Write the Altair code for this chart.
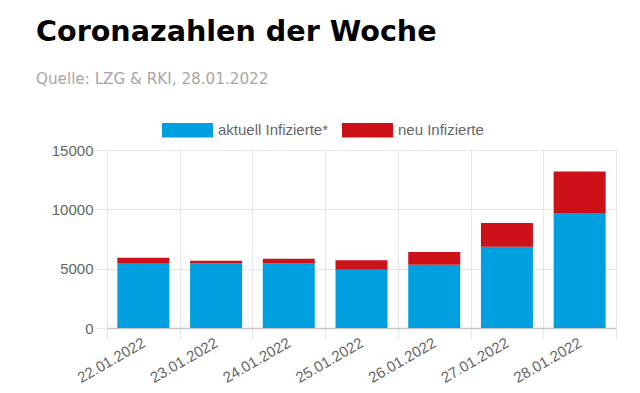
import altair as alt
import pandas as pd

dates = ["22.01.2022", "23.01.2022", "24.01.2022", "25.01.2022",
         "26.01.2022", "27.01.2022", "28.01.2022"]
aktuell = [5480, 5440, 5440, 4910, 5330, 6850, 9690]
neu = [440, 230, 400, 790, 1070, 2000, 3500]
series = ["aktuell Infizierte*", "neu Infizierte"]
colors = ["#009FE0", "#CC1118"]
y_ticks = [0, 5000, 10000, 15000]

rows = []
for d, a, n in zip(dates, aktuell, neu):
    rows.append({"Datum": d, "Serie": series[0], "Wert": a, "o": 0})
    rows.append({"Datum": d, "Serie": series[1], "Wert": n, "o": 1})
df = pd.DataFrame(rows)

grid_col = "#e6e6e6"
lab_font = "Liberation Sans"

chart = alt.Chart(df).mark_bar(width=alt.RelativeBandSize(0.715)).encode(
    x=alt.X("Datum:N", sort=dates, title=None,
            scale=alt.Scale(paddingInner=0, paddingOuter=0),
            axis=alt.Axis(tickBand="extent", labelAngle=330, labelAlign="right",
                          labelBaseline="middle", labelFont=lab_font, labelFontSize=15,
                          labelColor="#666666", labelPadding=2, tickSize=11,
                          tickColor=grid_col, grid=True, gridColor=grid_col,
                          domainColor="#c4c4c4", domainWidth=1.5)),
    y=alt.Y("Wert:Q", stack="zero", title=None,
            scale=alt.Scale(domain=[0, 15000], nice=False),
            axis=alt.Axis(values=y_ticks, format="d", domain=False, tickSize=12,
                          tickColor=grid_col, gridColor=grid_col, labelPadding=2,
                          labelFont=lab_font, labelFontSize=15, labelColor="#666666")),
    color=alt.Color("Serie:N", scale=alt.Scale(domain=series, range=colors),
                    legend=alt.Legend(title=None, orient="none", legendX=55, legendY=-45.5,
                                      direction="horizontal",
                                      symbolType="M-1,-0.284H1V0.284H-1Z",
                                      symbolSize=2601, symbolStrokeWidth=0,
                                      labelFont=lab_font, labelFontSize=15,
                                      labelColor="#666666", labelOffset=5,
                                      columnPadding=13)),
    order=alt.Order("o:Q"),
).properties(
    width=509, height=178,
    title=alt.TitleParams(
        text="Coronazahlen der Woche",
        subtitle="Quelle: LZG & RKI, 28.01.2022",
        anchor="start", frame="group", dx=-71, dy=3,
        font="DejaVu Sans", fontSize=28.6, fontWeight="bold", color="#000000",
        subtitleFont="DejaVu Sans", subtitleFontSize=15.2, subtitleColor="#a6a6a6",
        subtitlePadding=26, offset=20),
    autosize=alt.AutoSizeParams(type="none"),
    padding={"left": 99, "top": 142, "right": 16, "bottom": 57},
).configure_view(stroke=None)

chart.save("out.html", embed_options={"renderer": "svg", "actions": False})
